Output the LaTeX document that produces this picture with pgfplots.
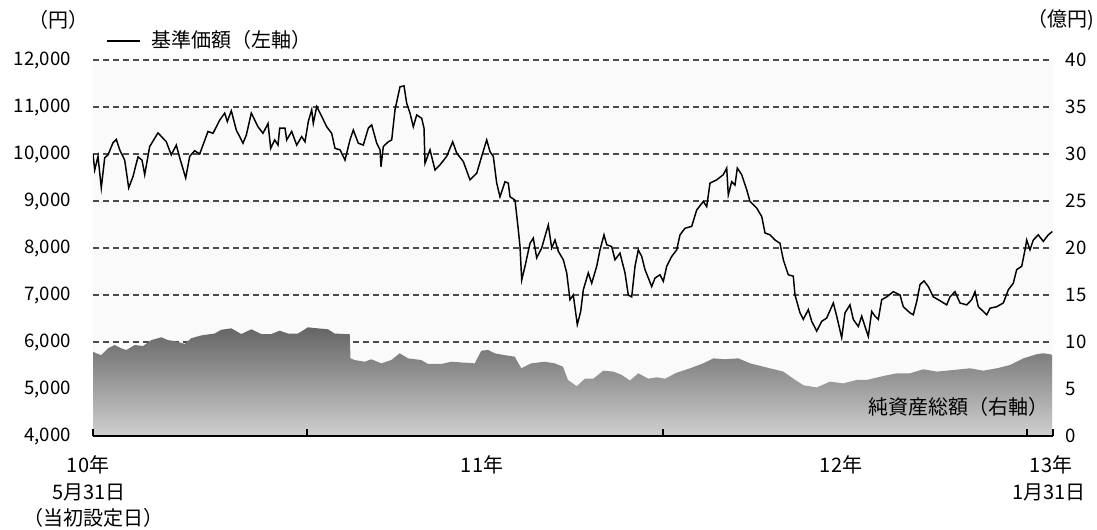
\documentclass[border=0pt]{standalone}
\usepackage{fontspec}
\setmainfont{Noto Sans CJK JP}
\usepackage{pgfplots}
\pgfplotsset{compat=1.18}
\definecolor{gridc}{RGB}{75,75,75}
\definecolor{bgc}{RGB}{250,250,250}
\definecolor{areatop}{RGB}{100,100,100}
\definecolor{areabot}{RGB}{208,208,208}
\newcommand{\jp}{\fontsize{15}{17}\selectfont}
\newcommand{\tk}{\fontsize{14}{16}\selectfont}
\begin{document}
\begin{tikzpicture}
\useasboundingbox (0,0) rectangle (822.75pt,396.75pt);
% right axis: net assets (area)
\begin{axis}[
  at={(69.75pt,69.75pt)}, anchor=south west, scale only axis,
  width=720pt, height=282pt,
  xmin=93, xmax=1053, ymin=0, ymax=40,
  ytick={0,5,...,40},
  hide x axis,
  axis y line*=right,
  y axis line style={draw=none},
  ytick style={draw=none},
  ymajorgrids,
  grid style={gridc, dash pattern=on 4.5pt off 3pt, line width=0.9pt},
  axis background/.style={fill=bgc},
  yticklabel style={font=\tk, anchor=west, xshift=6pt},
  /pgf/number format/assume math mode=true,
]
\addplot[draw=none, top color=areatop, bottom color=areabot] coordinates {
(93,8.97) (96.3,8.80) (101.3,8.6) (108,9.33) (114.7,9.68) (121.3,9.33) (126.3,9.15)
(134.7,9.68) (143,9.57) (151.3,10.2) (161.3,10.5) (168,10.2) (174.7,10.1) (184.7,9.8)
(191.3,10.4) (201.3,10.7) (214.7,10.9) (221.3,11.3) (231.3,11.45) (241.3,10.85)
(251.3,11.35) (261.3,10.85) (271.3,10.85) (279.7,11.2) (288,10.9) (298,10.9)
(308,11.56) (318,11.45) (328,11.35) (334.7,10.9) (344.7,10.85) (349.7,10.85)
(350.5,8.26) (354.7,8.08) (364.7,7.9) (371.3,8.16) (381.3,7.73) (391.3,8.08)
(399.7,8.8) (408,8.26) (421.3,8.08) (428,7.66) (441.3,7.66) (451.3,7.9) (464.7,7.8)
(474.7,7.73) (481.3,9.07) (488,9.15) (494.7,8.8) (504.7,8.6) (514.7,8.44)
(521.3,7.2) (531.3,7.73) (544.7,7.9) (554.7,7.73) (563,7.37) (568,5.96) (576.7,5.3)
(585,6.1) (593.3,6.1) (603.3,6.95) (613.3,6.85) (621.7,6.5) (630,5.9) (638.3,6.67)
(648.3,6.1) (656.7,6.24) (665,6.1) (676.7,6.73) (690,7.2) (703.3,7.73) (713.3,8.26)
(725,8.16) (738.3,8.26) (750,7.73) (770,7.2) (783.3,6.85) (793.3,6.1) (803.3,5.4)
(816.7,5.17) (830,5.78) (843.3,5.6) (856.7,5.96) (866.7,5.96) (883.3,6.38)
(896.7,6.67) (910,6.67) (923.3,7.1) (936.7,6.85) (953.3,7.02) (970,7.2)
(983.3,6.95) (996.7,7.2) (1010,7.55) (1023.3,8.26) (1036.7,8.7) (1043.3,8.8)
(1050,8.7) (1052,8.6)
} \closedcycle;
\end{axis}
% left axis: NAV line
\begin{axis}[
  at={(69.75pt,69.75pt)}, anchor=south west, scale only axis,
  width=720pt, height=282pt,
  xmin=93, xmax=1053, ymin=4000, ymax=12000,
  ytick={4000,5000,...,12000},
  axis y line*=left,
  axis x line*=bottom,
  y axis line style={draw=none},
  ytick style={draw=none},
  x axis line style={line width=1.4pt, black},
  xtick={93,307,663,1027,1053},
  xticklabels={},
  xtick align=inside,
  xtick style={line width=0.9pt, black},
  major tick length=5pt,
  scaled y ticks=false,
  yticklabel style={font=\tk, anchor=east, xshift=-13pt},
  /pgf/number format/1000 sep={,},
  /pgf/number format/assume math mode=true,
]
\addplot[black, line width=1.1pt] coordinates {
(93,10000) (94.7,9660) (98,9950) (101.3,9280) (104.7,9920) (108,9980) (113,10240)
(116.3,10310) (119.7,10090) (124.7,9870) (128.7,9280) (133,9520) (138,9940)
(142,9870) (144.7,9560) (149.7,10160) (158,10450) (166.3,10260) (171.3,9980)
(176.3,10190) (179.7,9920) (185.7,9490) (189.7,9950) (194.7,10070) (199.7,10000)
(208,10480) (213,10440) (219.7,10720) (224.7,10870) (227.3,10690) (231.3,10920)
(236.3,10510) (243,10230) (246.3,10400) (251.3,10870) (258,10580) (263,10440)
(268,10650) (270.7,10120) (274.7,10300) (278,10190) (279.7,10550) (285,10550)
(286.7,10300) (291.7,10480) (296.7,10190) (301.7,10370) (305,10260) (308.3,10690)
(311.7,10940) (313.3,10650) (316.7,11010) (321.7,10800) (326.7,10580) (331.7,10440)
(335,10120) (340,10090) (345,9870) (350,10300) (353.3,10510) (358.3,10230)
(363.3,10190) (368.3,10550) (371.7,10620) (376.7,10230) (380,10090) (381,9730)
(383.3,10160) (388.3,10260) (391.7,10300) (395,10940) (400,11430) (404,11450)
(406.7,11080) (410,10870) (413.3,10580) (416.7,10830) (421.7,10760) (424,10550)
(425,9800) (430,10090) (435,9660) (440,9770) (446.7,9950) (452.7,10260)
(456.7,10020) (463.3,9840) (470,9450) (476.7,9590) (481.7,9950) (486.7,10300)
(490,10050) (493.3,9950) (496.7,9380) (500,9090) (505,9410) (508.3,9380)
(510,9090) (515,9020) (518.3,8390) (520,8030) (521.7,7320) (525,7610) (530,8100)
(533.3,8210) (536.7,7790) (541.7,8000) (545,8250) (548.3,8490) (551.7,8000)
(555,8170) (558.3,7930) (563.3,7750) (566.7,7470) (570,6900) (573.3,7000)
(577.3,6370) (580.7,6650) (583.3,7110) (588.3,7470) (591.7,7250) (596.7,7610)
(600,7960) (604,8280) (606.7,8070) (611.7,8030) (615,7750) (620,7890) (625,7470)
(628.3,7000) (631.7,6960) (635,7610) (638.3,7960) (641.7,7820) (645,7540)
(651.7,7180) (655,7360) (660,7430) (663.3,7290) (666.7,7610) (671.7,7820)
(676.7,7960) (680,8280) (685,8420) (691.7,8460) (696.7,8810) (703.3,8990)
(706.7,8880) (710,9380) (716.7,9450) (723.3,9560) (726.7,9700) (728.3,9130)
(731.7,9410) (735,9340) (737.3,9700) (741.7,9560) (746.7,9240) (750,8990)
(756.7,8850) (761.7,8670) (765,8320) (770,8280) (775,8170) (780,8100) (783.3,7750)
(788.3,7430) (793.3,7400) (795,7000) (800,6620) (803.3,6480) (808.3,6690)
(811.7,6440) (816.7,6230) (821.7,6440) (826.7,6510) (833.3,6830) (836.7,6550)
(841.7,6090) (845,6620) (850,6790) (853.3,6480) (858.3,6330) (861.7,6550)
(865,6330) (868.3,6120) (871.7,6650) (875,6550) (878.3,6480) (881.7,6900)
(886.7,6960) (893.3,7070) (900,7000) (903.3,6750) (910,6620) (913.3,6580)
(916.7,6860) (920,7220) (924,7300) (928.3,7180) (933.3,6960) (938.3,6900)
(946.7,6790) (950,6960) (955,7070) (960,6830) (966.7,6790) (971.7,6900)
(975,7070) (978.3,6750) (983.3,6650) (986.7,6580) (990,6720) (996.7,6750)
(1003.3,6830) (1008.3,7110) (1013.3,7250) (1016.7,7540) (1021.7,7610) (1025,7960)
(1026.7,8170) (1030,7960) (1033.3,8170) (1038.3,8280) (1043.3,8140) (1048.3,8280)
(1052.3,8350)
};
\end{axis}
% texts, positioned in reference pixel coordinates
\begin{scope}[x=0.75pt, y=-0.75pt, shift={(0pt,396.75pt)}]
\node[font=\jp] at (58,20) {（円）};
\node[font=\jp, anchor=east, inner sep=0pt] at (1095,20) {（億円)};
\draw[black, line width=1.1pt] (107,41) -- (140,41);
\node[font=\jp] at (231,40) {基準価額（左軸）};
\node[font=\jp] at (958,407) {純資産総額（右軸）};
\node[font=\jp] at (88,465) {10年};
\node[font=\jp] at (89,492) {5月31日};
\node[font=\jp] at (93,518) {（当初設定日）};
\node[font=\jp] at (482,465) {11年};
\node[font=\jp] at (841,465) {12年};
\node[font=\jp] at (1051,465) {13年};
\node[font=\jp] at (1049,492) {1月31日};
\end{scope}
\end{tikzpicture}
\end{document}
